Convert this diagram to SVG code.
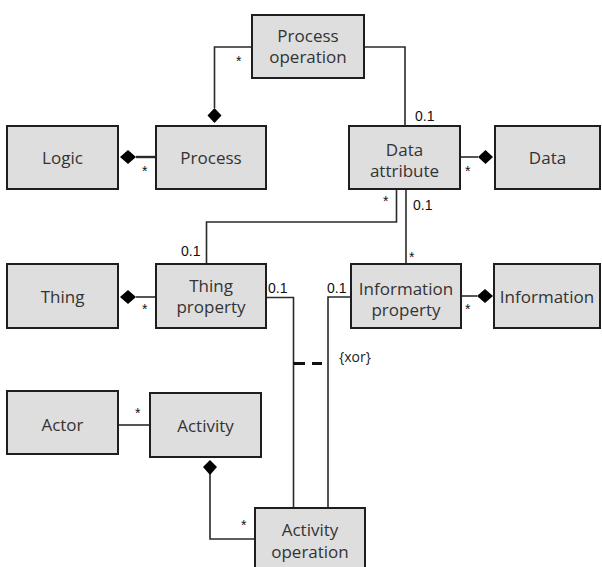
<svg xmlns="http://www.w3.org/2000/svg" width="602" height="567" viewBox="0 0 602 567">
<defs>
<style>
.box{fill:#dedede;stroke:#1e1e1e;stroke-width:2}
.t{font-family:"Open Sans","Noto Sans",sans-serif;font-size:17px;fill:#333;text-anchor:middle}
.c{fill:none;stroke:#2a2a2a;stroke-width:1.6}
.m{font-family:"Liberation Sans",Arial,sans-serif;font-size:14px;fill:#111}
.d{fill:#000}
</style>
</defs>
<rect width="602" height="567" fill="#fff"/>
<g id="connectors">
<path class="c" d="M252,47 H214.5 V108"/>
<path class="d" d="M214.5,108 L221.5,115.5 L214.5,123 L207.5,115.5 Z"/>
<path class="c" d="M364,47 H405 V126"/>
<path class="c" d="M136,157 H156" style="stroke-width:2.4"/>
<path class="d" d="M120,157 L128,150 L136,157 L128,164 Z"/>
<path class="c" d="M460,157 H478"/>
<path class="d" d="M478,157 L485.5,150 L493,157 L485.5,164 Z"/>
<path class="c" d="M206.5,264 V222 H396.5 V189"/>
<path class="c" d="M406,189 V264"/>
<path class="c" d="M136,297 H156"/>
<path class="d" d="M120,297 L128,290 L136,297 L128,304 Z"/>
<path class="c" d="M460,296 H477"/>
<path class="d" d="M477,296 L485,289 L493,296 L485,303 Z"/>
<path class="c" d="M266,297.5 H293.5 V508"/>
<path class="c" d="M351,297 H328 V508"/>
<path d="M293.5,363.5 H305 M312,363.5 H322" fill="none" stroke="#111" stroke-width="3"/>
<path class="c" d="M118,425 H150"/>
<path class="d" d="M210,460 L217,467 L210,475 L203,467 Z"/>
<path class="c" d="M210,474 V539 H255"/>
<text class="m" x="236" y="66">*</text>
<text class="m" x="415" y="121">0.1</text>
<text class="m" x="142" y="176">*</text>
<text class="m" x="465" y="176">*</text>
<text class="m" x="383" y="206">*</text>
<text class="m" x="413" y="210">0.1</text>
<text class="m" x="181" y="256">0.1</text>
<text class="m" x="409" y="262">*</text>
<text class="m" x="142" y="314">*</text>
<text class="m" x="268" y="293">0.1</text>
<text class="m" x="327" y="293">0.1</text>
<text class="m" x="465" y="314">*</text>
<text class="m" x="135" y="418">*</text>
<text class="m" x="241" y="530">*</text>
<text x="339" y="362" style="font-family:'Open Sans','Noto Sans',sans-serif;font-size:14px;fill:#222">{xor}</text>
</g>
<g id="process-operation"><rect class="box" x="252" y="15" width="112" height="63"/><text class="t" x="308" y="42">Process</text><text class="t" x="308" y="63">operation</text></g>
<g id="logic"><rect class="box" x="7" y="126" width="111" height="63"/><text class="t" x="62.5" y="164">Logic</text></g>
<g id="process"><rect class="box" x="156" y="126" width="110" height="63"/><text class="t" x="211" y="164">Process</text></g>
<g id="data-attribute"><rect class="box" x="349" y="126" width="111" height="63"/><text class="t" x="404.5" y="156">Data</text><text class="t" x="404.5" y="177">attribute</text></g>
<g id="data"><rect class="box" x="495" y="126" width="105" height="63"/><text class="t" x="547.5" y="164">Data</text></g>
<g id="thing"><rect class="box" x="7" y="264" width="111" height="64"/><text class="t" x="62.5" y="303">Thing</text></g>
<g id="thing-property"><rect class="box" x="156" y="264" width="110" height="64"/><text class="t" x="211" y="292">Thing</text><text class="t" x="211" y="313">property</text></g>
<g id="information-property"><rect class="box" x="351" y="264" width="110" height="64"/><text class="t" x="406" y="295">Information</text><text class="t" x="406" y="316">property</text></g>
<g id="information"><rect class="box" x="494" y="264" width="106" height="64"/><text class="t" x="547" y="303">Information</text></g>
<g id="actor"><rect class="box" x="7" y="391" width="111" height="63"/><text class="t" x="62.5" y="431">Actor</text></g>
<g id="activity"><rect class="box" x="150" y="393" width="111" height="64"/><text class="t" x="205.5" y="432">Activity</text></g>
<g id="activity-operation"><rect class="box" x="255" y="508" width="110" height="64"/><text class="t" x="310" y="536">Activity</text><text class="t" x="310" y="558">operation</text></g>
</svg>
